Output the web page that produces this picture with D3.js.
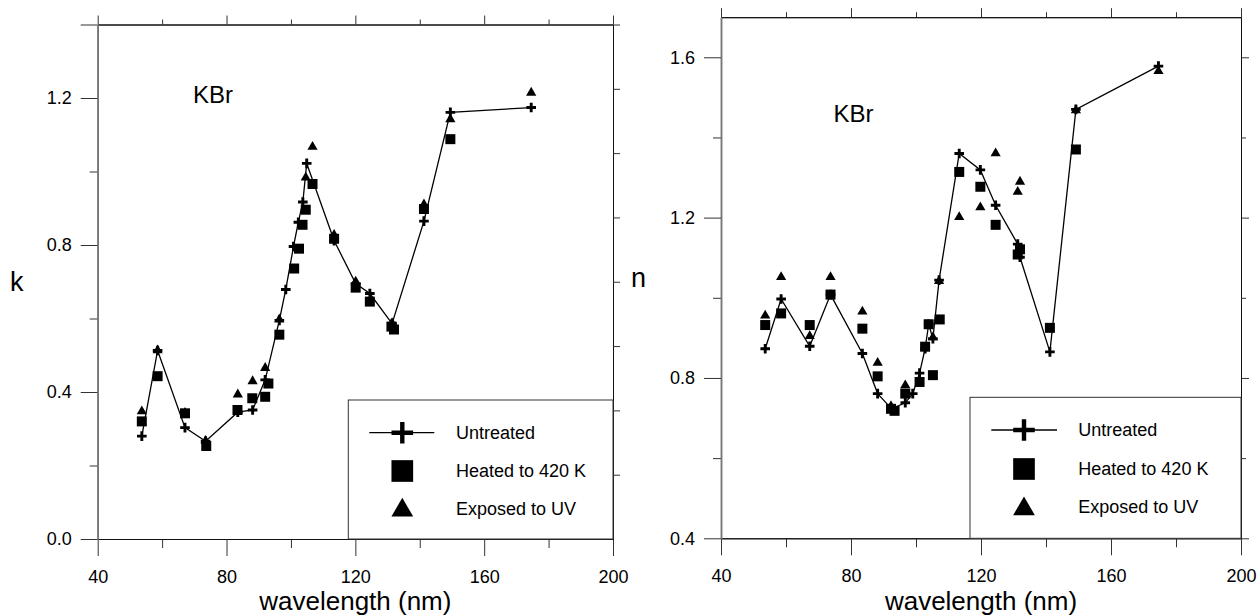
<!DOCTYPE html>
<html>
<head>
<meta charset="utf-8">
<script src="https://cdn.jsdelivr.net/npm/d3@7"></script>
<style>
  body { margin: 0; background: #fff; }
  svg text { font-family: "Liberation Sans", Arial, sans-serif; fill: #000; }
</style>
</head>
<body>
<svg id="chart" width="1260" height="615"></svg>
<script>
// ---- data ----
const xTicks = [40, 80, 120, 160, 200];
const xMinorTicks = [60, 100, 140, 180];
const kTicks = [0.0, 0.4, 0.8, 1.2];
const kMinorTicks = [0.2, 0.6, 1.0];
const kRightTicks = [0.6, 0.8, 1.0, 1.2, 1.4, 1.6, 1.8];
const nTicks = [0.4, 0.8, 1.2, 1.6];
const nMinorTicks = [0.6, 1.0, 1.4];
const legendLabels = ["Untreated", "Heated to 420 K", "Exposed to UV"];

// k (left panel)
const kWaveUntreated = [53.7, 58.6, 67.1, 73.5, 83.5, 88.1, 92.0, 96.4, 98.4, 100.8, 102.3, 103.7, 104.9, 113.4, 120.1, 124.5, 131.4, 141.3, 149.5, 174.6];
const kUntreated     = [0.280, 0.513, 0.303, 0.266, 0.345, 0.351, 0.433, 0.595, 0.679, 0.796, 0.862, 0.917, 1.022, 0.812, 0.695, 0.668, 0.586, 0.865, 1.161, 1.174];
const kWaveHeated = [53.7, 58.6, 67.1, 73.7, 83.4, 88.0, 92.0, 93.0, 96.4, 101.0, 102.5, 103.6, 104.6, 106.7, 113.4, 120.1, 124.5, 131.2, 132.0, 141.3, 149.5];
const kHeated     = [0.320, 0.443, 0.342, 0.253, 0.351, 0.383, 0.387, 0.423, 0.556, 0.736, 0.790, 0.855, 0.896, 0.966, 0.817, 0.684, 0.646, 0.578, 0.570, 0.898, 1.088];
const kWaveUV = [53.7, 58.6, 67.1, 73.5, 83.5, 88.1, 92.0, 96.4, 104.6, 106.7, 113.4, 120.1, 131.4, 141.3, 149.5, 174.6];
const kUV     = [0.350, 0.516, 0.346, 0.270, 0.396, 0.432, 0.468, 0.600, 0.986, 1.070, 0.830, 0.703, 0.590, 0.913, 1.145, 1.217];

// n (right panel)
const nWaveUntreated = [53.6, 58.5, 67.3, 73.7, 83.5, 88.2, 92.5, 96.7, 99.0, 101.1, 102.8, 103.9, 105.2, 107.1, 113.3, 119.8, 124.5, 131.3, 132.0, 141.2, 149.2, 174.6];
const nUntreated     = [0.873, 0.997, 0.879, 1.008, 0.861, 0.761, 0.723, 0.738, 0.761, 0.812, 0.873, 0.934, 0.898, 1.044, 1.360, 1.319, 1.231, 1.134, 1.101, 0.865, 1.470, 1.578];
const nWaveHeated = [53.6, 58.5, 67.3, 73.7, 83.5, 88.2, 92.3, 93.4, 96.7, 101.1, 102.8, 103.9, 105.2, 107.3, 113.3, 119.8, 124.5, 131.3, 132.0, 141.2, 149.2];
const nHeated     = [0.932, 0.961, 0.932, 1.008, 0.923, 0.804, 0.723, 0.718, 0.761, 0.790, 0.878, 0.934, 0.807, 0.946, 1.314, 1.277, 1.182, 1.108, 1.121, 0.925, 1.370];
const nWaveUV = [53.6, 58.5, 67.3, 73.7, 83.5, 88.2, 92.3, 96.7, 105.2, 107.1, 113.3, 119.8, 124.5, 131.3, 132.0, 149.2, 174.6];
const nUV     = [0.958, 1.054, 0.907, 1.054, 0.968, 0.840, 0.732, 0.784, 0.904, 1.044, 1.204, 1.228, 1.363, 1.267, 1.292, 1.470, 1.568];

const zip = (xs, ys) => xs.map((v, i) => [v, ys[i]]);

const svg = d3.select("#chart");
const fmt = d3.format(".1f");

// small helpers for markers
const plusPath = s => `M${-s},0H${s}M0,${-s}V${s}`;
const square = d3.symbol().type(d3.symbolSquare);
const triangle = d3.symbol().type(d3.symbolTriangle);

function styleAxis(sel, color, width) {
    sel.selectAll("path.domain").attr("stroke", color).attr("stroke-width", width);
    sel.selectAll(".tick line").attr("stroke", "#333").attr("stroke-width", 1);
    sel.selectAll(".tick text").style("font-size", "18px").style("font-family", '"Liberation Sans", Arial, sans-serif').attr("fill", "#000");
}

function drawPanel(p) {
    const x = d3.scaleLinear().domain([40, 200]).range(p.xRange);
    const y = d3.scaleLinear().domain(p.yDomain).range(p.yRange);
    const [xl, xr] = p.xRange;
    const [yb, yt] = p.yRange;
    const g = svg.append("g");

    // bottom
    g.append("g").attr("transform", `translate(0,${yb})`)
        .call(d3.axisBottom(x).tickValues(xMinorTicks).tickSize(9).tickSizeOuter(0).tickFormat(""))
        .call(s => styleAxis(s, "#111", 1));
    g.append("g").attr("transform", `translate(0,${yb})`)
        .call(d3.axisBottom(x).tickValues(xTicks).tickSize(17).tickSizeOuter(0).tickPadding(14).tickFormat(d3.format("d")))
        .call(s => styleAxis(s, "#111", 1));
    // top
    g.append("g").attr("transform", `translate(0,${yt})`)
        .call(d3.axisTop(x).tickValues(xMinorTicks).tickSize(5).tickSizeOuter(0).tickFormat(""))
        .call(s => styleAxis(s, "#111", 1));
    g.append("g").attr("transform", `translate(0,${yt})`)
        .call(d3.axisTop(x).tickValues(xTicks).tickSize(9).tickSizeOuter(0).tickFormat(""))
        .call(s => styleAxis(s, "#111", 1));
    // left
    g.append("g").attr("transform", `translate(${xl},0)`)
        .call(d3.axisLeft(y).tickValues(p.minor).tickSize(8).tickSizeOuter(0).tickFormat(""))
        .call(s => styleAxis(s, "#777", 1.5));
    g.append("g").attr("transform", `translate(${xl},0)`)
        .call(d3.axisLeft(y).tickValues(p.major).tickSize(17).tickSizeOuter(0).tickPadding(9).tickFormat(fmt))
        .call(s => styleAxis(s, "#777", 1.5));
    if (p.edgeTick) {
        g.append("g").attr("transform", `translate(${xl},0)`)
            .call(d3.axisLeft(y).tickValues(p.edgeTick).tickSize(17).tickSizeOuter(0).tickFormat(""))
            .call(s => styleAxis(s, "#777", 1.5));
    }
    // right
    const yr = p.rightScale ? d3.scaleLinear().domain(p.rightScale).range(p.yRange) : y;
    g.append("g").attr("transform", `translate(${xr},0)`)
        .call(d3.axisRight(yr).tickValues(p.rightTicks).tickSize(p.rightTickSize).tickSizeOuter(0).tickFormat(""))
        .call(s => styleAxis(s, "#111", 1));
    if (p.rightMinor) {
        g.append("g").attr("transform", `translate(${xr},0)`)
            .call(d3.axisRight(yr).tickValues(p.rightMinor).tickSize(5).tickSizeOuter(0).tickFormat(""))
            .call(s => styleAxis(s, "#111", 1));
    }

    // untreated line
    const line = d3.line().x(d => x(d[0])).y(d => y(d[1]));
    g.append("path").datum(p.untreated)
        .attr("d", line).attr("fill", "none").attr("stroke", "#000").attr("stroke-width", 1.3);

    g.selectAll(".plus").data(p.untreated).enter().append("path")
        .attr("transform", d => `translate(${x(d[0])},${y(d[1])})`)
        .attr("d", plusPath(4.8)).attr("stroke", "#000").attr("stroke-width", 2.9).attr("fill", "none");
    g.selectAll(".sq").data(p.heated).enter().append("path")
        .attr("transform", d => `translate(${x(d[0])},${y(d[1])})`)
        .attr("d", square.size(100)).attr("fill", "#000");
    g.selectAll(".tri").data(p.uv).enter().append("path")
        .attr("transform", d => `translate(${x(d[0])},${y(d[1]) + 1})`)
        .attr("d", triangle.size(45)).attr("fill", "#000");

    // labels
    g.append("text").attr("x", p.kbr[0]).attr("y", p.kbr[1]).style("font-size", "24px").text("KBr");
    g.append("text").attr("x", (xl + xr) / 2).attr("y", 610).attr("text-anchor", "middle")
        .style("font-size", "26px").text("wavelength (nm)");
    g.append("text").attr("x", p.yLabel[0]).attr("y", p.yLabel[1]).style("font-size", "27px").text(p.yTitle);

    // legend
    const L = p.legend;
    g.append("rect").attr("x", L.x).attr("y", L.y).attr("width", xr - L.x).attr("height", yb - L.y)
        .attr("fill", "#fff").attr("stroke", "#333").attr("stroke-width", 1);
    const rows = g.selectAll(".leg").data(legendLabels).enter().append("g")
        .attr("transform", (d, i) => `translate(0,${L.rows[i]})`);
    rows.append("text").attr("x", L.text).attr("dy", "0.35em").style("font-size", "18px").text(d => d);
    rows.each(function (d, i) {
        const r = d3.select(this);
        if (i === 0) {
            r.append("line").attr("x1", L.line[0]).attr("x2", L.line[1])
                .attr("stroke", "#000").attr("stroke-width", 1.3);
            r.append("path").attr("transform", `translate(${L.sym},0)`)
                .attr("d", plusPath(10.8)).attr("stroke", "#000").attr("stroke-width", 4.4);
        } else if (i === 1) {
            r.append("path").attr("transform", `translate(${L.sym},0)`)
                .attr("d", square.size(470)).attr("fill", "#000");
        } else {
            r.append("path").attr("transform", `translate(${L.sym},2)`)
                .attr("d", triangle.size(205)).attr("fill", "#000");
        }
    });
}

drawPanel({
    xRange: [97.7, 613], yDomain: [0, 1.4], yRange: [539, 24.5],
    major: kTicks, minor: kMinorTicks, edgeTick: [1.4],
    rightScale: [0.4, 2.0], rightTicks: kRightTicks.concat([2.0]), rightTickSize: 7,
    untreated: zip(kWaveUntreated, kUntreated),
    heated: zip(kWaveHeated, kHeated),
    uv: zip(kWaveUV, kUV),
    kbr: [193, 102.6], yTitle: "k", yLabel: [10, 290.7],
    legend: { x: 348.3, y: 400, rows: [432.7, 471, 508.3], sym: 402.3, line: [369.3, 434.3], text: 456 }
});

drawPanel({
    xRange: [721, 1241], yDomain: [0.4, 1.7], yRange: [538.3, 17.2],
    major: nTicks, minor: nMinorTicks,
    rightTicks: nTicks, rightMinor: nMinorTicks, rightTickSize: 8,
    untreated: zip(nWaveUntreated, nUntreated),
    heated: zip(nWaveHeated, nHeated),
    uv: zip(nWaveUV, nUV),
    kbr: [833.6, 121.8], yTitle: "n", yLabel: [631, 287],
    legend: { x: 970, y: 397.3, rows: [430, 469, 507], sym: 1024, line: [991.3, 1057], text: 1078.3 }
});
</script>
</body>
</html>
